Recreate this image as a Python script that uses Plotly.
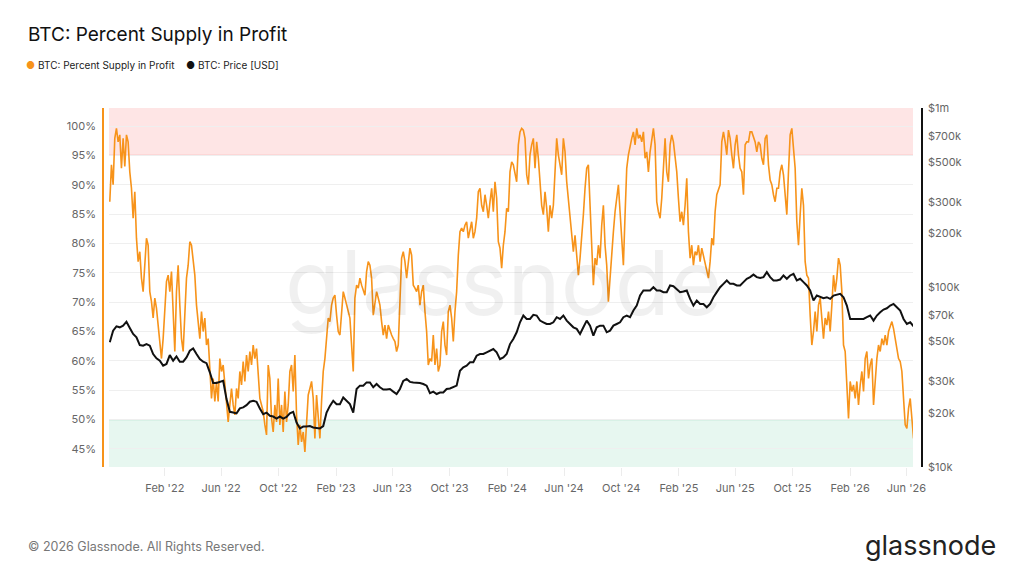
import numpy as np
import pandas as pd
import plotly.graph_objects as go

# ---------------- data ----------------
series_start = "2021-10-06 16:00"
supply_step_days = 3.555      # spacing of the supply readings
price_step_days = 7.11        # spacing of the price readings

supply_in_profit_pct = [
    87.1, 93.4, 90.0, 97.9, 99.6, 97.3, 98.5, 92.8, 97.9, 93.1,
    98.5, 97.3, 92.2, 89.4, 84.3, 88.8, 80.9, 76.9, 78.6, 74.1,
    71.8, 75.8, 80.9, 79.7, 71.8, 70.1, 67.3, 70.7, 69.0, 66.1,
    62.7, 60.4, 63.8, 68.4, 73.5, 74.6, 71.8, 75.2, 66.7, 61.6,
    71.8, 76.3, 69.5, 63.8, 61.6, 68.4, 74.1, 76.3, 80.3, 79.7,
    76.9, 74.6, 69.5, 66.7, 63.8, 68.4, 65.0, 67.3, 62.7, 63.8,
    58.7, 53.6, 57.0, 53.1, 56.5, 53.1, 60.4, 58.2, 59.3, 55.9,
    52.5, 49.6, 52.5, 55.3, 52.5, 50.8, 55.3, 53.6, 58.2, 55.9,
    59.9, 56.5, 61.0, 58.2, 61.6, 59.3, 62.7, 60.4, 62.1, 58.2,
    53.6, 52.5, 51.4, 49.1, 47.4, 59.3, 57.0, 50.2, 47.9, 52.5,
    49.6, 57.0, 49.1, 52.5, 47.9, 54.8, 49.6, 52.5, 58.2, 59.3,
    54.8, 61.0, 50.8, 45.7, 49.1, 46.2, 47.9, 44.5, 50.2, 54.2,
    55.3,
    56.5, 53.6, 46.8, 54.2, 49.6, 46.8, 53.1, 58.2, 60.4, 63.8,
    67.3, 66.7, 69.5, 70.7, 71.2, 67.8, 65.0, 64.4, 68.4, 71.8,
    70.7, 69.5, 68.4, 67.3, 62.7, 58.2, 70.7, 72.9, 72.4, 74.1,
    72.9, 71.8, 71.2, 75.2, 76.9, 76.3, 74.1, 67.8, 69.5, 71.8,
    70.7, 69.5, 66.7, 64.4, 66.1, 63.8, 66.1, 65.0, 64.4, 63.8,
    63.3, 61.6, 62.7, 70.1, 77.5, 78.6, 76.9, 74.1, 76.3, 79.2,
    78.0, 72.9, 72.4, 71.8, 72.9, 69.5, 71.8, 72.9, 68.4, 65.0,
    59.3, 60.4, 59.9, 64.4, 59.3, 62.1, 58.2, 59.3, 65.0, 66.7,
    62.7, 61.0, 68.4, 69.5, 67.3, 63.3, 68.4, 71.8, 78.0, 82.0,
    82.6, 82.0, 83.1, 83.7, 80.9, 82.6, 83.7, 80.9, 82.0, 84.3,
    88.8, 89.4, 86.5, 85.4, 88.3, 86.5, 84.3, 87.1, 89.4, 85.4,
    90.5, 87.7, 80.3, 79.2, 75.8, 79.7, 82.0, 86.0, 85.4, 92.2,
    93.9, 93.4, 92.2,
    90.5, 96.8, 99.0, 99.6, 99.3, 97.9, 91.7, 90.0, 95.1, 96.8,
    97.9, 92.8, 97.3, 94.5, 90.0, 86.5, 84.9, 88.8, 86.0, 82.0,
    86.5, 84.3, 86.5, 92.2, 97.9, 95.1, 93.4, 91.7, 97.9, 95.6,
    90.5, 87.7, 85.4, 82.0, 78.6, 81.4, 77.5, 74.6, 77.5, 80.9,
    84.9, 89.4, 92.8, 93.4, 87.1, 78.0, 72.9, 77.5, 76.3, 79.7,
    77.5, 83.1, 86.5, 79.7, 76.3, 70.1, 74.1, 79.2, 82.0, 85.4,
    87.7, 90.0, 85.4, 80.9, 76.3, 84.9, 92.8, 95.1, 96.8, 97.9,
    99.0, 96.8, 99.6, 97.9, 98.5, 97.3, 99.0, 94.5, 95.6, 92.2,
    95.6, 97.9, 99.6, 96.8, 87.1, 85.4, 84.3, 87.7, 92.2, 97.9,
    92.2, 90.5, 96.8, 98.5, 97.3, 95.1, 92.2, 87.7, 83.7, 85.4,
    83.1, 86.5, 91.1, 82.0, 77.5, 79.7, 76.3, 78.6, 78.0, 79.7,
    76.9, 79.2, 78.0, 76.3, 75.2, 74.1, 76.9, 80.9, 79.7, 85.4,
    88.3, 89.4, 90.0,
    97.3, 99.0, 97.3, 95.1, 99.3, 97.9, 95.1, 92.8, 96.8, 98.5,
    95.1, 92.8, 92.2, 88.3, 96.8, 97.3, 97.3, 99.0, 99.0, 97.9,
    97.3, 95.6, 97.3, 96.8, 94.5, 93.4, 97.9, 98.5, 93.4, 90.8,
    90.0, 88.3, 87.1, 89.4, 89.4, 92.2, 93.4, 91.7, 88.3, 84.9,
    92.2, 98.5, 99.6, 96.8, 92.8, 83.7, 79.7, 84.9, 89.4, 86.5,
    76.9, 74.6, 74.1, 67.8, 62.7, 65.0, 68.4, 65.0, 69.5, 70.7,
    67.3, 63.8, 67.3, 66.1, 68.4, 65.0, 69.5, 74.6, 71.8, 74.1,
    77.5, 76.3, 71.8, 62.7, 61.6, 55.9, 50.2, 56.5, 54.8, 55.9,
    53.6, 56.5, 52.5, 55.9, 58.2, 54.8, 60.4, 61.6, 57.0, 59.3,
    60.4, 52.5, 57.0, 60.4, 62.7, 61.6, 63.8, 62.7, 64.4, 62.7,
    65.0, 66.1, 66.7, 65.5, 63.8, 61.6, 60.4, 59.9, 58.2, 53.6,
    49.1, 48.5, 51.9, 53.6, 50.8, 46.8,
]

price_usd_thousands = [
    49.5, 57.5, 60.8, 60.0, 61.3, 64.5, 59.5, 55.1, 52.8, 47.8,
    47.4, 48.4, 47.4, 42.6, 40.3, 39.1, 36.7, 37.5, 42.0, 39.1,
    41.3, 38.6, 38.6, 40.8, 44.4, 45.8, 42.6, 39.9, 38.6, 37.9,
    33.7, 29.4, 29.4, 29.8, 30.2, 23.9, 20.3, 20.1, 19.9, 21.2,
    21.5, 22.1, 23.1, 23.4, 23.1, 21.2, 19.7, 20.1, 19.3, 19.1,
    18.6, 19.1, 18.6, 19.0, 19.9, 20.3, 17.7, 16.4, 16.8, 16.8,
    16.9,
    16.6, 16.5, 16.4, 16.9, 20.1, 21.9, 23.4, 22.4, 22.4, 24.4,
    23.4, 22.4, 20.1, 27.2, 28.4, 28.4, 29.6, 29.6, 27.8, 29.0,
    27.8, 27.0, 27.0, 27.2, 26.3, 25.5, 27.2, 30.2, 30.9, 29.8,
    29.6, 29.6, 29.4, 29.0, 28.4, 25.8, 26.3, 25.5, 26.0, 26.0,
    27.2, 27.4, 27.8, 28.4, 34.4, 35.9, 36.7, 38.3, 38.3, 41.7,
    42.6, 42.6, 43.5, 44.4, 45.4, 43.5, 39.9, 40.8, 42.6, 48.4,
    51.7,
    56.3, 64.0, 69.8, 66.8, 66.8, 70.4, 69.8, 65.4, 64.0, 62.6,
    62.6, 64.0, 68.3, 66.8, 69.8, 65.4, 62.6, 60.0, 58.8, 55.1,
    60.0, 65.4, 61.3, 53.9, 60.0, 61.3, 61.3, 56.3, 57.5, 61.3,
    62.6, 64.0, 68.3, 69.8, 68.3, 74.4, 79.3, 90.2, 96.2, 96.2,
    96.2, 100.4, 96.2, 96.2, 94.2, 94.2, 102.6, 101.7, 98.3, 94.2,
    95.0, 96.2, 86.4, 79.3, 84.6, 81.0, 81.0, 77.6, 81.0, 88.3,
    94.2,
    100.4, 104.8, 109.4, 104.8, 104.8, 102.6, 102.6, 107.1, 111.8, 114.2,
    118.0, 114.2, 112.9, 114.2, 121.8, 114.2, 109.4, 109.4, 110.8, 116.7,
    111.8, 116.7, 119.2, 109.4, 111.8, 107.1, 102.6, 96.2, 84.6, 90.2,
    88.3, 87.2, 88.3, 86.4, 90.2, 91.0, 92.2, 88.3, 79.3, 66.8,
    66.8, 66.8, 67.4, 66.8, 68.3, 69.8, 65.4, 69.8, 72.8, 75.4,
    76.6, 79.3, 81.0, 77.6, 74.4, 66.8, 62.6, 64.0, 60.8,
]

x_tick_dates = ["2022-02-01", "2022-06-01", "2022-10-01", "2023-02-01", "2023-06-01",
                "2023-10-01", "2024-02-01", "2024-06-01", "2024-10-01", "2025-02-01",
                "2025-06-01", "2025-10-01", "2026-02-01", "2026-06-01"]
x_tick_labels = ["Feb '22", "Jun '22", "Oct '22", "Feb '23", "Jun '23", "Oct '23", "Feb '24",
                 "Jun '24", "Oct '24", "Feb '25", "Jun '25", "Oct '25", "Feb '26", "Jun '26"]
pct_ticks = [45, 50, 55, 60, 65, 70, 75, 80, 85, 90, 95, 100]
price_ticks = [10000, 20000, 30000, 50000, 70000, 100000, 200000, 300000, 500000, 700000, 1000000]
price_tick_labels = ["$10k", "$20k", "$30k", "$50k", "$70k", "$100k", "$200k", "$300k",
                     "$500k", "$700k", "$1m"]
overheated_level = 95
capitulation_level = 50

# ---------------- build ----------------
start = pd.Timestamp(series_start)
supply_dates = start + pd.to_timedelta(np.arange(len(supply_in_profit_pct)) * supply_step_days, unit="D")
price_dates = start + pd.to_timedelta(np.arange(len(price_usd_thousands)) * price_step_days, unit="D")
price_usd = np.array(price_usd_thousands) * 1000

W, H = 1024, 576
L, R, T, B = 109, 913, 108, 467
PCT_RANGE = [41.93, 103.07]
X_RANGE = ["2021-10-05", "2026-06-15"]


def px(x):
    return (x - L) / (R - L)


def py(y):
    return (B - y) / (B - T)


ORANGE = "#f7931a"
BLACK = "#111111"
FONT = "Inter, Roboto, Noto Sans, sans-serif"

fig = go.Figure()
fig.add_trace(go.Scatter(x=supply_dates, y=supply_in_profit_pct, mode="lines",
                         line=dict(color=ORANGE, width=1.6), name="BTC: Percent Supply in Profit",
                         yaxis="y"))
fig.add_trace(go.Scatter(x=price_dates, y=price_usd, mode="lines",
                         line=dict(color=BLACK, width=2), name="BTC: Price [USD]",
                         yaxis="y2"))

shapes = [
    dict(type="rect", xref="paper", yref="y", x0=0, x1=1, y0=overheated_level, y1=PCT_RANGE[1],
         fillcolor="rgba(245,80,80,0.15)", line=dict(width=0), layer="below"),
    dict(type="line", xref="paper", yref="y", x0=0, x1=1, y0=overheated_level, y1=overheated_level,
         line=dict(color="rgba(240,110,110,0.9)", width=1), layer="below"),
    dict(type="rect", xref="paper", yref="y", x0=0, x1=1, y0=PCT_RANGE[0], y1=capitulation_level,
         fillcolor="rgba(60,190,130,0.12)", line=dict(width=0), layer="below"),
    dict(type="line", xref="paper", yref="y", x0=0, x1=1, y0=capitulation_level, y1=capitulation_level,
         line=dict(color="rgba(90,200,150,0.9)", width=1), layer="below"),
    dict(type="line", xref="paper", yref="paper", x0=px(103), x1=px(103), y0=0, y1=1,
         line=dict(color=ORANGE, width=2)),
    dict(type="line", xref="paper", yref="paper", x0=px(922), x1=px(922), y0=0, y1=1,
         line=dict(color=BLACK, width=2)),
]

annotations = [
    dict(text="glassnode", x=px(503), y=py(282), xref="paper", yref="paper", showarrow=False,
         xanchor="center", yanchor="middle", font=dict(size=90, color="rgba(0,0,0,0.06)", family=FONT)),
    dict(text="BTC: Percent Supply in Profit", x=px(26), y=py(35), xref="paper", yref="paper",
         showarrow=False, xanchor="left", yanchor="middle", font=dict(size=19, color="#111", family=FONT)),
    dict(text="●", x=px(30), y=py(65), xref="paper", yref="paper", showarrow=False,
         xanchor="center", yanchor="middle", font=dict(size=10, color=ORANGE)),
    dict(text="BTC: Percent Supply in Profit", x=px(36), y=py(65), xref="paper", yref="paper",
         showarrow=False, xanchor="left", yanchor="middle", font=dict(size=10, color="#222", family=FONT)),
    dict(text="●", x=px(190), y=py(65), xref="paper", yref="paper", showarrow=False,
         xanchor="center", yanchor="middle", font=dict(size=10, color=BLACK)),
    dict(text="BTC: Price [USD]", x=px(196), y=py(65), xref="paper", yref="paper",
         showarrow=False, xanchor="left", yanchor="middle", font=dict(size=10, color="#222", family=FONT)),
    dict(text="© 2026 Glassnode. All Rights Reserved.", x=px(26), y=py(546), xref="paper", yref="paper",
         showarrow=False, xanchor="left", yanchor="middle", font=dict(size=12.5, color="#777", family=FONT)),
    dict(text="glassnode", x=px(998), y=py(545), xref="paper", yref="paper",
         showarrow=False, xanchor="right", yanchor="middle", font=dict(size=27, color="#222", family=FONT)),
]

fig.update_layout(
    width=W, height=H, autosize=False,
    margin=dict(l=L, r=W - R, t=T, b=H - B, pad=0),
    paper_bgcolor="white", plot_bgcolor="white",
    font=dict(family=FONT, color="#666", size=11),
    showlegend=False,
    shapes=shapes,
    annotations=annotations,
    xaxis=dict(type="date", range=X_RANGE, tickvals=x_tick_dates, ticktext=x_tick_labels,
               showgrid=False, zeroline=False, showline=False, ticks="outside", ticklen=8,
               tickcolor="#ececec", tickfont=dict(size=11, color="#666"), ticklabelstandoff=3),
    yaxis=dict(range=PCT_RANGE, tickvals=pct_ticks, ticktext=[f"{v}%" for v in pct_ticks],
               showgrid=True, gridcolor="#efefef", gridwidth=1, zeroline=False, showline=False,
               ticks="", tickfont=dict(size=11, color="#666"), ticklabelstandoff=12),
    yaxis2=dict(type="log", range=[4, 6], overlaying="y", side="right", tickvals=price_ticks,
                ticktext=price_tick_labels, showgrid=False, zeroline=False, showline=False,
                ticks="", tickfont=dict(size=11, color="#666"), ticklabelstandoff=14),
)

fig.write_html("out.html")
